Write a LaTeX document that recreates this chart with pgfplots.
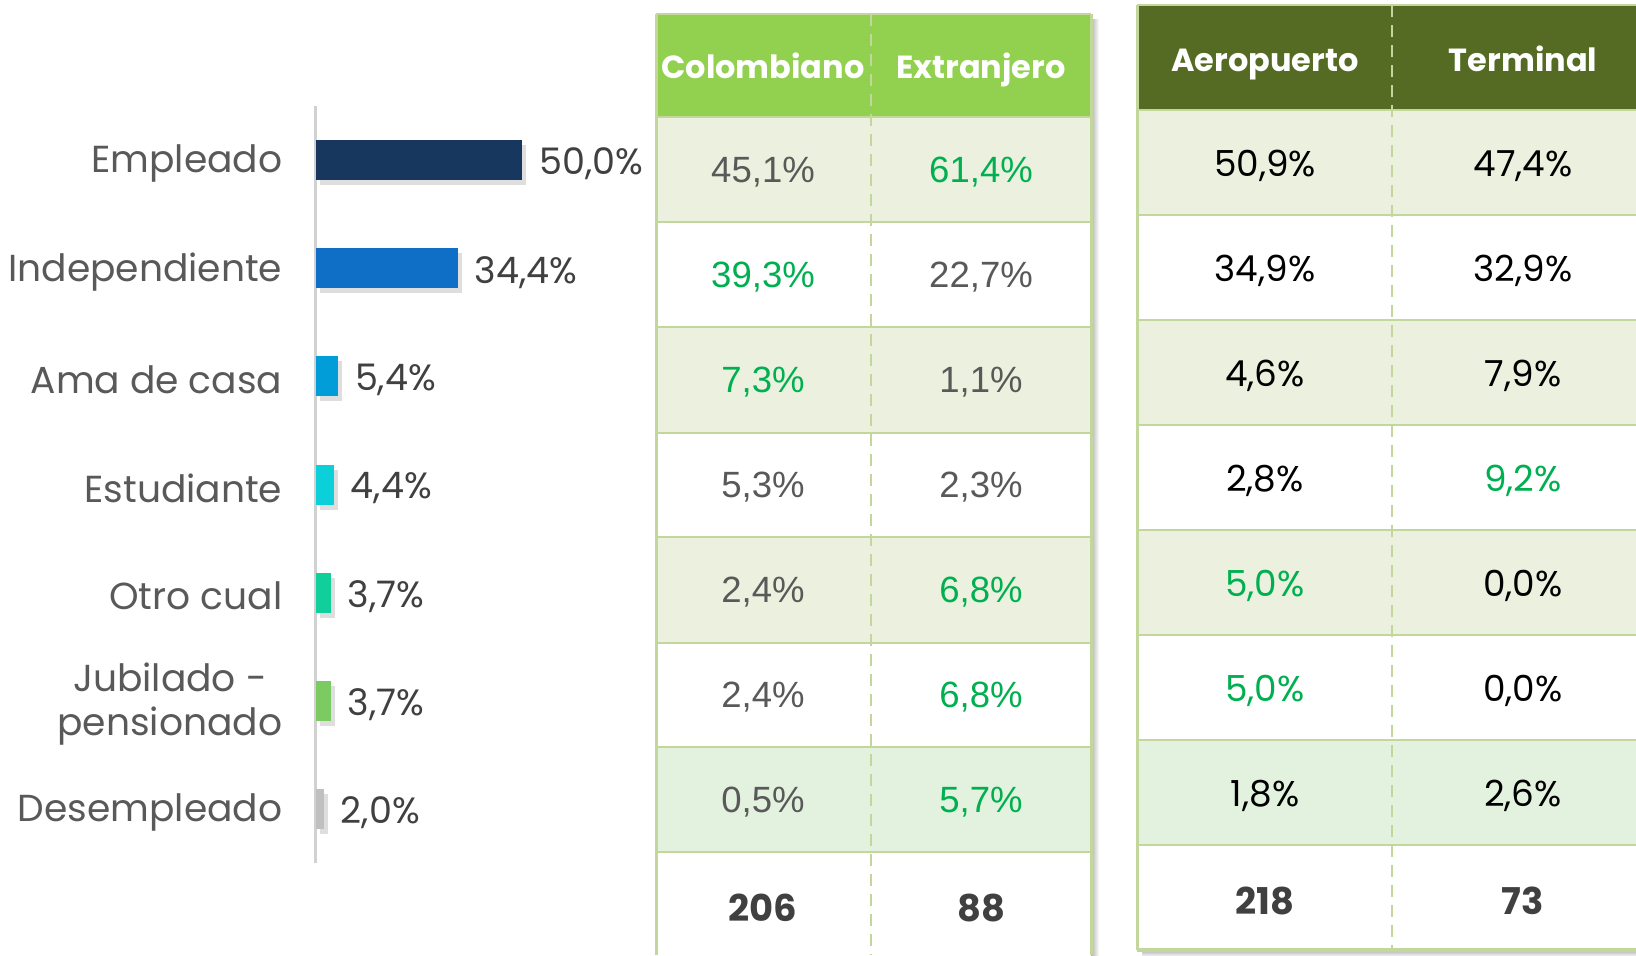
\documentclass[border=0pt]{standalone}
\usepackage{fontspec}
\setmainfont{Poppins}
\newfontfamily\arialf{Liberation Sans}
\usepackage{pgfplots}
\pgfplotsset{compat=1.18}
\definecolor{cEmp}{HTML}{17375E}
\definecolor{cInd}{HTML}{0F6FC6}
\definecolor{cAma}{HTML}{009DD9}
\definecolor{cEst}{HTML}{0BD0D9}
\definecolor{cOtr}{HTML}{10CF9B}
\definecolor{cJub}{HTML}{7CCA62}
\definecolor{cDes}{HTML}{C0C0C0}
\definecolor{lbl}{HTML}{595959}
\definecolor{val}{HTML}{404040}
\definecolor{hdrA}{HTML}{92D050}
\definecolor{hdrB}{HTML}{556B24}
\definecolor{rowA}{HTML}{EBF1DE}
\definecolor{rowC}{HTML}{E3F2DE}
\definecolor{brd}{HTML}{C3D69B}
\definecolor{gtx}{HTML}{00B050}
\definecolor{t1gray}{HTML}{595959}
\tikzset{
  t1/.style={font=\arialf\fontsize{10.4}{12}\selectfont, text=t1gray},
  t1g/.style={t1, text=gtx},
  t2/.style={font=\fontsize{10.2}{12}\selectfont, text=black},
  t2g/.style={t2, text=gtx},
  hd/.style={font=\bfseries\fontsize{9.1}{12}\selectfont, text=white, anchor=base},
  tot/.style={font=\bfseries\fontsize{10.5}{12}\selectfont, text=val},
  shd/.style={preaction={fill=black!13, transform canvas={xshift=0.4mm,yshift=-0.5mm}}}}
\begin{document}
\begin{tikzpicture}
\useasboundingbox (0,0) rectangle (163.6mm,95.5mm);
% ---------------- tables (overlay axis in pixel units) ----------------
\begin{axis}[at={(0,0)}, anchor=south west, width=163.6mm, height=95.5mm,
  scale only axis, xmin=0, xmax=1636, ymin=0, ymax=955, y dir=reverse,
  hide axis, clip=false]
% Table 1 shadow
\shade[left color=black!30, right color=white] (1091,20) rectangle (1099,955);
% Table 1 fills
\fill[white] (656,14) rectangle (1091,955);
\fill[hdrA] (656,14) rectangle (1091,117);
\fill[rowA] (656,117) rectangle (1091,222);
\fill[rowA] (656,327) rectangle (1091,433);
\fill[rowA] (656,537) rectangle (1091,643);
\fill[rowC] (656,747) rectangle (1091,852);
\draw[brd, line width=0.25mm] (656,14) -- (1091,14);
\pgfplotsinvokeforeach{117,222,327,433,537,643,747,852}{\draw[brd, line width=0.25mm] (656,#1) -- (1091,#1);}
\draw[brd, line width=0.3mm] (656,14) -- (656,955);
\draw[brd, line width=0.3mm] (1091,14) -- (1091,955);
\draw[brd, line width=0.2mm, dash pattern=on 1.2mm off 0.8mm] (871,14) -- (871,955);
% Table 1 texts
\node[hd] at (763,79) {Colombiano};
\node[hd] at (981,79) {Extranjero};
\node[t1]  at (763,172) {45,1\%};  \node[t1g] at (981,172) {61,4\%};
\node[t1g] at (763,277) {39,3\%};  \node[t1]  at (981,277) {22,7\%};
\node[t1g] at (763,382) {7,3\%};   \node[t1]  at (981,382) {1,1\%};
\node[t1]  at (763,487) {5,3\%};   \node[t1]  at (981,487) {2,3\%};
\node[t1]  at (763,592) {2,4\%};   \node[t1g] at (981,592) {6,8\%};
\node[t1]  at (763,697) {2,4\%};   \node[t1g] at (981,697) {6,8\%};
\node[t1]  at (763,802) {0,5\%};   \node[t1g] at (981,802) {5,7\%};
\node[tot] at (763,908) {206};     \node[tot] at (981,908) {88};
% Table 2 shadow
\shade[top color=black!30, bottom color=white] (1142,950) rectangle (1660,957);
% Table 2 fills
\fill[white] (1137,5) rectangle (1660,950);
\fill[hdrB] (1137,5) rectangle (1660,110);
\fill[rowA] (1137,110) rectangle (1660,215);
\fill[rowA] (1137,320) rectangle (1660,425);
\fill[rowA] (1137,530) rectangle (1660,635);
\fill[rowC] (1137,740) rectangle (1660,845);
\draw[brd, line width=0.25mm] (1137,5) -- (1660,5);
\pgfplotsinvokeforeach{110,215,320,425,530,635,740,845}{\draw[brd, line width=0.25mm] (1137,#1) -- (1660,#1);}
\draw[brd, line width=0.4mm] (1137,950) -- (1660,950);
\draw[brd, line width=0.3mm] (1137,5) -- (1137,950);
\draw[brd, line width=0.2mm, dash pattern=on 1.2mm off 0.8mm] (1392,5) -- (1392,950);
% Table 2 texts
\node[hd] at (1265,72) {Aeropuerto};
\node[hd] at (1523,72) {Terminal};
\node[t2]  at (1265,166) {50,9\%};  \node[t2]  at (1523,166) {47,4\%};
\node[t2]  at (1265,271) {34,9\%};  \node[t2]  at (1523,271) {32,9\%};
\node[t2]  at (1265,376) {4,6\%};   \node[t2]  at (1523,376) {7,9\%};
\node[t2]  at (1265,481) {2,8\%};   \node[t2g] at (1523,481) {9,2\%};
\node[t2g] at (1265,586) {5,0\%};   \node[t2]  at (1523,586) {0,0\%};
\node[t2g] at (1265,691) {5,0\%};   \node[t2]  at (1523,691) {0,0\%};
\node[t2]  at (1265,796) {1,8\%};   \node[t2]  at (1523,796) {2,6\%};
\node[tot] at (1265,901) {218};     \node[tot] at (1523,901) {73};
\end{axis}
% ---------------- bar chart ----------------
\begin{axis}[at={(31.6mm,84.9mm)}, anchor=north west,
  width=24.78mm, height=75.7mm, scale only axis,
  xbar, bar width=4mm, bar shift=0pt,
  xmin=0, xmax=60, ymin=-0.5, ymax=6.5, y dir=reverse,
  axis x line=none, axis y line=left,
  axis line style={-},
  y axis line style={draw=black!18, line width=0.3mm},
  major tick length=0pt,
  ytick={0,...,6},
  yticklabels={Empleado,Independiente,Ama de casa,Estudiante,Otro cual,{Jubilado -\\pensionado},Desempleado},
  yticklabel style={font=\fontsize{10.7}{12.6}\selectfont, text=lbl, align=center, xshift=-3.3mm, yshift=-0.35mm, inner sep=0pt},
  point meta=x,
  nodes near coords={\pgfmathprintnumber[fixed,fixed zerofill,precision=1,use comma,assume math mode=true]{\pgfplotspointmeta}\%},
  nodes near coords align=horizontal,
  every node near coord/.append style={font=\fontsize{10.4}{13}\selectfont, text=val, inner sep=0pt, xshift=1.6mm, yshift=-0.4mm},
  clip=false]
\addplot[fill=cEmp, draw=none, shd] coordinates {(50.0,0)};
\addplot[fill=cInd, draw=none, shd] coordinates {(34.4,1)};
\addplot[fill=cAma, draw=none, shd] coordinates {(5.4,2)};
\addplot[fill=cEst, draw=none, shd] coordinates {(4.4,3)};
\addplot[fill=cOtr, draw=none, shd] coordinates {(3.7,4)};
\addplot[fill=cJub, draw=none, shd] coordinates {(3.7,5)};
\addplot[fill=cDes, draw=none, shd] coordinates {(2.0,6)};
\end{axis}
\end{tikzpicture}
\end{document}
